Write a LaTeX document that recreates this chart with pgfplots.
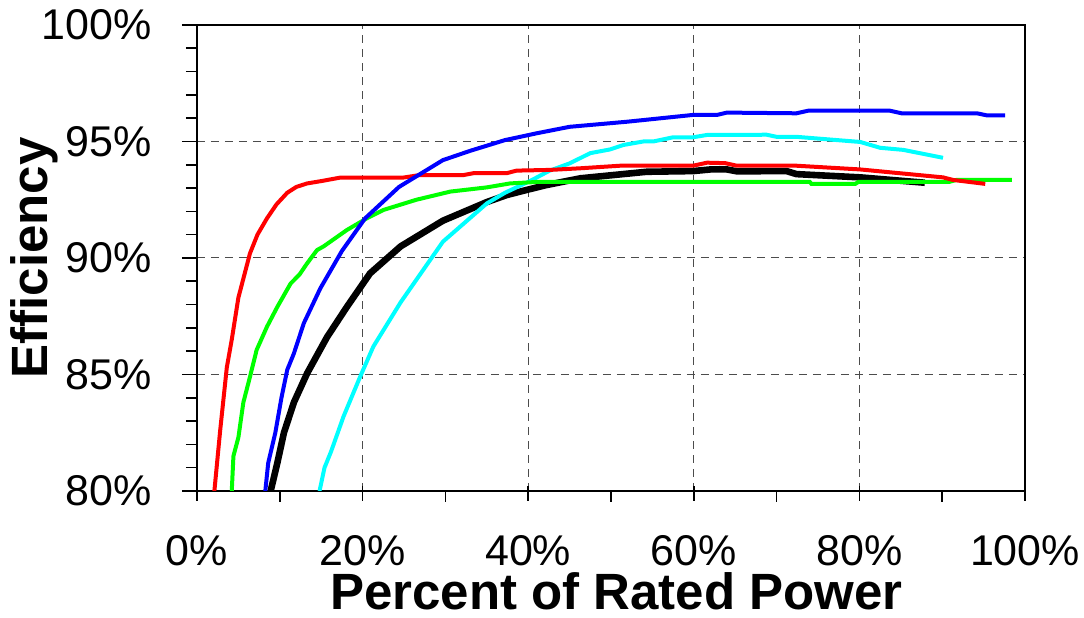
\documentclass[border=0pt]{standalone}
\usepackage{fontspec}
\setmainfont{Liberation Sans}
\usepackage{pgfplots}
\pgfplotsset{compat=1.18}

\definecolor{cRed}{HTML}{FF0000}
\definecolor{cBlue}{HTML}{0000FF}
\definecolor{cGreen}{HTML}{00FF00}
\definecolor{cCyan}{HTML}{00FFFF}

\begin{document}
\begin{tikzpicture}
\begin{axis}[
    scale only axis,
    width=414pt, height=233pt,
    xmin=0, xmax=100, ymin=80, ymax=100,
    xtick={0,20,...,100}, ytick={80,85,...,100},
    minor x tick num=1, minor y tick num=4,
    /pgf/number format/assume math mode=true,
    xticklabel={\pgfmathprintnumber{\tick}\%},
    yticklabel={\pgfmathprintnumber{\tick}\%},
    tick label style={font=\fontsize{21.5}{24}\selectfont, inner sep=0pt},
    xticklabel style={yshift=-14.5pt},
    yticklabel style={xshift=-15pt},
    tick pos=left, tick align=outside,
    major tick length=7.5pt, minor tick length=5.5pt,
    major x tick style={yshift=2.5pt},
    every tick/.style={black, line width=0.8pt},
    axis line style={line width=1pt},
    xmajorgrids, ymajorgrids,
    grid style={dash pattern=on 4pt off 3pt, black!70, line width=0.5pt},
    xlabel={Percent of Rated Power},
    ylabel={Efficiency},
    label style={font=\fontsize{25.5}{30}\selectfont\bfseries, inner sep=0pt},
    xlabel style={at={(axis description cs:0.5066,-0.216)}, anchor=center},
    ylabel style={at={(axis description cs:-0.196,0.5)}, anchor=center},
]
% black
\addplot[black, line width=3.3pt] coordinates {
(8.9,80.0) (9.7,81.2) (10.5,82.5) (11.7,83.8) (13.3,85.05) (15.7,86.6) (18.1,87.9)
(20.9,89.34) (24.6,90.5) (29.7,91.6) (35.0,92.4) (37.4,92.7) (39.8,92.92) (42.2,93.13)
(46.3,93.42) (54.3,93.7) (59.9,93.73) (62.0,93.8) (64.0,93.8) (65.2,93.72) (71.2,93.73)
(72.4,93.6) (80.1,93.46) (87.9,93.23)};
% cyan
\addplot[cCyan, line width=2pt] coordinates {
(14.8,80.0) (15.4,81.0) (16.2,81.7) (17.7,83.2) (19.7,84.9) (21.3,86.2) (24.6,88.1)
(29.7,90.7) (35.0,92.34) (37.2,92.8) (40.2,93.3) (42.6,93.75) (45.0,94.06) (47.5,94.5)
(49.9,94.66) (51.5,94.85) (53.9,95.0) (55.1,95.0) (57.5,95.18) (59.9,95.18) (61.6,95.28)
(68.8,95.29) (70.0,95.2) (72.4,95.2) (80.1,94.98) (82.5,94.73) (85.3,94.64) (90.1,94.3)};
% green
\addplot[cGreen, line width=2pt] coordinates {
(4.2,80.0) (4.4,81.5) (5.0,82.3) (5.6,83.8) (6.4,84.9) (7.2,86.05) (8.45,87.05)
(9.7,87.9) (11.3,88.9) (12.4,89.3) (13.3,89.77) (14.5,90.34) (15.3,90.5) (18.1,91.2)
(20.5,91.7) (22.5,92.06) (26.5,92.5) (30.6,92.85) (35.0,93.03) (37.8,93.2) (41.4,93.27)
(74.0,93.27) (74.2,93.18) (79.5,93.18) (79.9,93.27) (90.9,93.27) (91.7,93.35) (98.4,93.35)};
% red
\addplot[cRed, line width=2pt] coordinates {
(2.1,80.0) (2.8,82.6) (3.6,85.3) (4.2,86.5) (5.0,88.3) (6.4,90.2) (7.3,91.0)
(8.45,91.7) (9.6,92.3) (10.9,92.8) (12.0,93.05) (13.3,93.2) (15.0,93.3) (17.3,93.45)
(24.9,93.45) (26.9,93.56) (32.2,93.56) (33.4,93.64) (37.4,93.64) (38.6,93.75) (42.6,93.78)
(46.3,93.85) (51.1,93.96) (59.9,93.96) (61.6,94.09) (63.8,94.07) (65.2,93.96) (72.4,93.96)
(80.1,93.8) (90.1,93.46) (91.3,93.35) (95.2,93.18)};
% blue
\addplot[cBlue, line width=2pt] coordinates {
(8.25,80.0) (8.6,81.2) (9.46,82.5) (10.2,84.0) (10.9,85.2) (11.7,85.9) (12.9,87.2)
(14.9,88.7) (17.5,90.3) (20.3,91.7) (24.4,93.05) (29.7,94.2) (33.0,94.6) (37.2,95.06)
(41.0,95.35) (45.0,95.63) (52.0,95.85) (59.9,96.14) (62.8,96.14) (64.0,96.24) (72.4,96.21)
(73.8,96.32) (83.7,96.32) (85.1,96.21) (94.2,96.21) (95.4,96.12) (97.6,96.12)};
\coordinate (bl) at (rel axis cs:0,0);
\coordinate (tr) at (rel axis cs:1,1);
\end{axis}
\pgfresetboundingbox
\useasboundingbox ([shift={(-98.5pt,-63.5pt)}]bl) rectangle ([shift={(29.5pt,12.5pt)}]tr);
\end{tikzpicture}
\end{document}
